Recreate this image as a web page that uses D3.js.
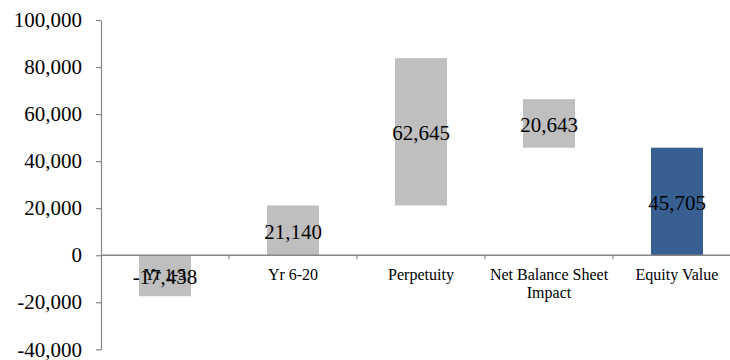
<!DOCTYPE html>
<html>
<head>
<meta charset="utf-8">
<script src="https://cdn.jsdelivr.net/npm/d3@7"></script>
<style>
  html, body { margin: 0; padding: 0; background: #fff; }
  svg, svg text { display: block; font-family: "Liberation Serif", "Times New Roman", "DejaVu Serif", serif; }
</style>
</head>
<body>
<svg id="chart" width="730" height="360"></svg>
<script>
// Waterfall: each bar spans from its base to base + value
const categories = ["Yr 1-5", "Yr 6-20", "Perpetuity", "Net Balance Sheet Impact", "Equity Value"];
const values = [-17438, 21140, 62645, 20643, 45705];
const bases = [0, 0, 21140, 45705, 0];
const barColors = ["#bfbfbf", "#bfbfbf", "#bfbfbf", "#bfbfbf", "#375f91"];
const yTicks = [-40000, -20000, 0, 20000, 40000, 60000, 80000, 100000];

const svg = d3.select("#chart");
const plotLeft = 101, plotTop = 20, plotBottom = 349.3;
const band = 128;

const x = d3.scaleBand()
  .domain(categories)
  .range([plotLeft, plotLeft + band * categories.length])
  .paddingInner(0).paddingOuter(0);

const y = d3.scaleLinear()
  .domain([-40000, 100000])
  .range([plotBottom, plotTop]);

// Thousands separator with a plain hyphen for negatives
const fmt = d3.formatLocale({ decimal: ".", thousands: ",", grouping: [3], currency: ["$", ""], minus: "-" }).format(",");
const barW = 52;

const rows = categories.map((c, i) => ({
  cat: c, value: values[i], base: bases[i], color: barColors[i],
  y0: bases[i], y1: bases[i] + values[i]
}));

// Bars
svg.append("g").selectAll("rect")
  .data(rows)
  .join("rect")
  .attr("x", d => x(d.cat) + (x.bandwidth() - barW) / 2)
  .attr("width", barW)
  .attr("y", d => y(Math.max(d.y0, d.y1)))
  .attr("height", d => Math.abs(y(d.y0) - y(d.y1)))
  .attr("fill", d => d.color);

// Y axis
const yAxis = svg.append("g")
  .attr("transform", `translate(${plotLeft},0)`)
  .call(d3.axisLeft(y).tickValues(yTicks).tickFormat(fmt).tickSize(5).tickPadding(14).tickSizeOuter(0))
  .attr("font-family", null)
  .attr("font-size", null);
yAxis.select(".domain").attr("stroke", "#868686").attr("stroke-width", 1.2);
yAxis.selectAll(".tick line").attr("stroke", "#868686").attr("stroke-width", 1.2);
yAxis.selectAll(".tick text")
  .style("font-size", "21px")
  .attr("fill", "#000");

// X axis line at zero with boundary tick marks
const zeroY = y(0);
const xg = svg.append("g");
xg.append("line")
  .attr("x1", plotLeft).attr("x2", plotLeft + band * categories.length)
  .attr("y1", zeroY).attr("y2", zeroY)
  .attr("stroke", "#868686").attr("stroke-width", 1.6);
xg.selectAll("line.tk")
  .data(categories.slice(1))
  .join("line")
  .attr("class", "tk")
  .attr("x1", d => x(d)).attr("x2", d => x(d))
  .attr("y1", zeroY).attr("y2", zeroY + 4)
  .attr("stroke", "#868686").attr("stroke-width", 1.2);

// Category labels, wrapped to the band width
const catText = xg.selectAll("text.cat")
  .data(categories)
  .join("text")
  .attr("class", "cat")
  .attr("x", d => x(d) + x.bandwidth() / 2)
  .attr("y", zeroY + 25)
  .attr("text-anchor", "middle")
  .style("font-size", "16px")
  .attr("fill", "#000");

catText.each(function(d) {
  const t = d3.select(this);
  const words = d.split(" ");
  const maxW = x.bandwidth() + 4;
  let line = [];
  let tspan = t.append("tspan").attr("x", x(d) + x.bandwidth() / 2).attr("dy", 0);
  words.forEach(w => {
    line.push(w);
    tspan.text(line.join(" "));
    if (tspan.node().getComputedTextLength() > maxW && line.length > 1) {
      line.pop();
      tspan.text(line.join(" "));
      line = [w];
      tspan = t.append("tspan").attr("x", x(d) + x.bandwidth() / 2).attr("dy", 18).text(w);
    }
  });
});

// Value labels at the middle of each bar
svg.append("g").selectAll("text")
  .data(rows)
  .join("text")
  .attr("x", d => x(d.cat) + x.bandwidth() / 2)
  .attr("y", d => (y(d.y0) + y(d.y1)) / 2 + 8.5)
  .attr("text-anchor", "middle")
  .style("font-size", "21px")
  .attr("fill", "#000")
  .text(d => fmt(d.value));
</script>
</body>
</html>
